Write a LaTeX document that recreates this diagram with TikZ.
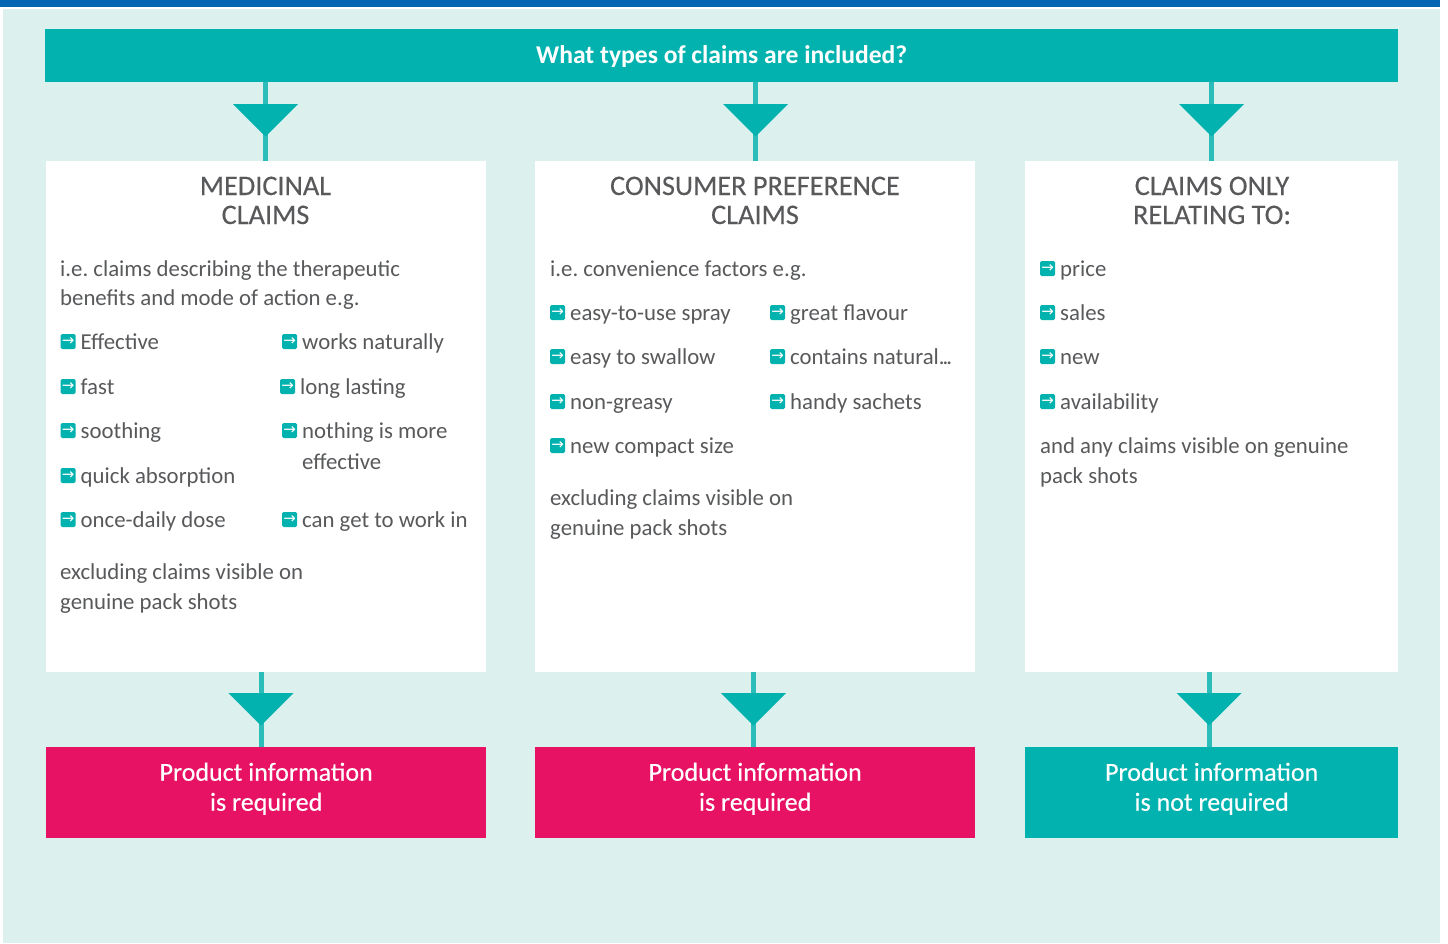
\documentclass[tikz,border=0pt]{standalone}
\usepackage{fontspec}
\setmainfont{Carlito}
\newfontfamily\arrowfont{DejaVu Sans}
\usetikzlibrary{positioning,calc}
\definecolor{teal1}{HTML}{02B2AF}
\definecolor{stemcol}{HTML}{2CBDBB}
\definecolor{pale}{HTML}{DCF0EE}
\definecolor{pink1}{HTML}{E81264}
\definecolor{blue1}{HTML}{0066B3}
\definecolor{ink}{HTML}{58595B}
\tikzset{
  panel/.style={fill=white,anchor=north west,inner sep=0pt,minimum height=511pt},
  result/.style={anchor=north west,inner sep=0pt,minimum height=91pt,text=white,align=center,text depth=12pt,font=\fontsize{26}{30}\selectfont\addfontfeature{FakeBold=0.25}},
  heading/.style={text=ink,align=center,anchor=base,inner sep=0pt,font=\fontsize{28.3}{29}\selectfont\addfontfeature{FakeBold=0.2}},
  body/.style={text=ink,anchor=base west,inner sep=0pt,font=\fontsize{22.8}{30}\selectfont\frenchspacing},
  icon/.style={fill=teal1,text=white,rounded corners=1.5pt,inner sep=0pt,minimum width=15pt,minimum height=15pt,font=\arrowfont\fontsize{15}{15}\selectfont},
  stem/.style={stemcol,line width=5pt},
  drop/.style={fill=teal1}
}
\begin{document}
\begin{tikzpicture}[x=1pt,y=-1pt]
   \useasboundingbox (0,0) rectangle (1448,943);
   \fill[pale] (3,9) rectangle (1440,943);
   \fill[blue1] (0,0) rectangle (1440,7);
   % top bar
   \node[fill=teal1,anchor=north west,inner sep=0pt,minimum width=1353pt,minimum height=53pt,text=white,text depth=2pt,font=\fontsize{25.6}{30}\selectfont\bfseries] (question) at (45,29) {What types of claims are included?};
   % the three columns
   \node[panel,minimum width=440pt] (med)  at (46,161)   {};
   \node[panel,minimum width=440pt] (pref) at (535,161)  {};
   \node[panel,minimum width=373pt] (only) at (1025,161) {};
   \node[result,fill=pink1,minimum width=440pt] (medres)  at (46,747)   {Product information\\is required};
   \node[result,fill=pink1,minimum width=440pt] (prefres) at (535,747)  {Product information\\is required};
   \node[result,fill=teal1,minimum width=373pt] (onlyres) at (1025,747) {Product information\\is not required};
   % connector ends
   \coordinate (a1) at (265.5,161);
   \coordinate (a2) at (755.5,161);
   \coordinate (a3) at (1211.5,161);
   \coordinate (b1) at (261,747);
   \coordinate (b2) at (753.5,747);
   \coordinate (b3) at (1209,747);
   \foreach \n in {1,2,3} {
      \draw[stem] (question.south -| a\n) -- (a\n);
      \fill[drop] ($(a\n)+(-32.5,-57)$) -- ++(65,0) -- ++(-32.5,32.5) -- cycle;
   }
   \draw[stem] (med.south -| b1) -- (b1);
   \draw[stem] (pref.south -| b2) -- (b2);
   \draw[stem] (only.south -| b3) -- (b3);
   \foreach \n in {1,2,3} {
      \fill[drop] ($(b\n)+(-32.5,-54)$) -- ++(65,0) -- ++(-32.5,32.5) -- cycle;
   }
   % headings
   \node[heading] (h1) at (265.5,224) {MEDICINAL\\CLAIMS};
   \node[heading] (h2) at (755,224)   {CONSUMER PREFERENCE\\CLAIMS};
   \node[heading] (h3) at (1212,224)  {CLAIMS ONLY\\RELATING TO:};
   % plain text
   \foreach \nm/\px/\py/\txt in {
      ta/60/276/i.e. claims describing the therapeutic,
      tb/60/305/benefits and mode of action e.g.,
      tc/302/469/effective,
      td/60/579/excluding claims visible on,
      te/60/609/genuine pack shots,
      tf/550/276/i.e. convenience factors e.g.,
      tg/550/505/excluding claims visible on,
      th/550/535/genuine pack shots,
      ti/1040/453/and any claims visible on genuine,
      tj/1040/483/pack shots}
      \node[body] (\nm) at (\px,\py) {\txt};
   % list items
   \foreach \nm/\px/\py/\txt in {
      c1/60.5/349/Effective,
      c2/282/349/works naturally,
      c3/60.5/394/fast,
      c4/280/394/long lasting,
      c5/60.5/438/soothing,
      c6/282/438/nothing is more,
      c7/60.5/483/quick absorption,
      c8/60.5/527/once-daily dose,
      c9/282/527/can get to work in,
      p1/550/320/easy-to-use spray,
      p2/770/320/great flavour,
      p3/550/364/easy to swallow,
      p4/770/364/{contains natural.\kern-2pt.\kern-2pt.},
      p5/550/409/non-greasy,
      p6/770/409/handy sachets,
      p7/550/453/new compact size,
      o1/1040/276/price,
      o2/1040/320/sales,
      o3/1040/364/new,
      o4/1040/409/availability} {
      \node[icon,anchor=west] (i\nm) at (\px,\py-7.5) {→};
      \node[body] (\nm) at (\px+20,\py) {\txt};
   }
\end{tikzpicture}
\end{document}
